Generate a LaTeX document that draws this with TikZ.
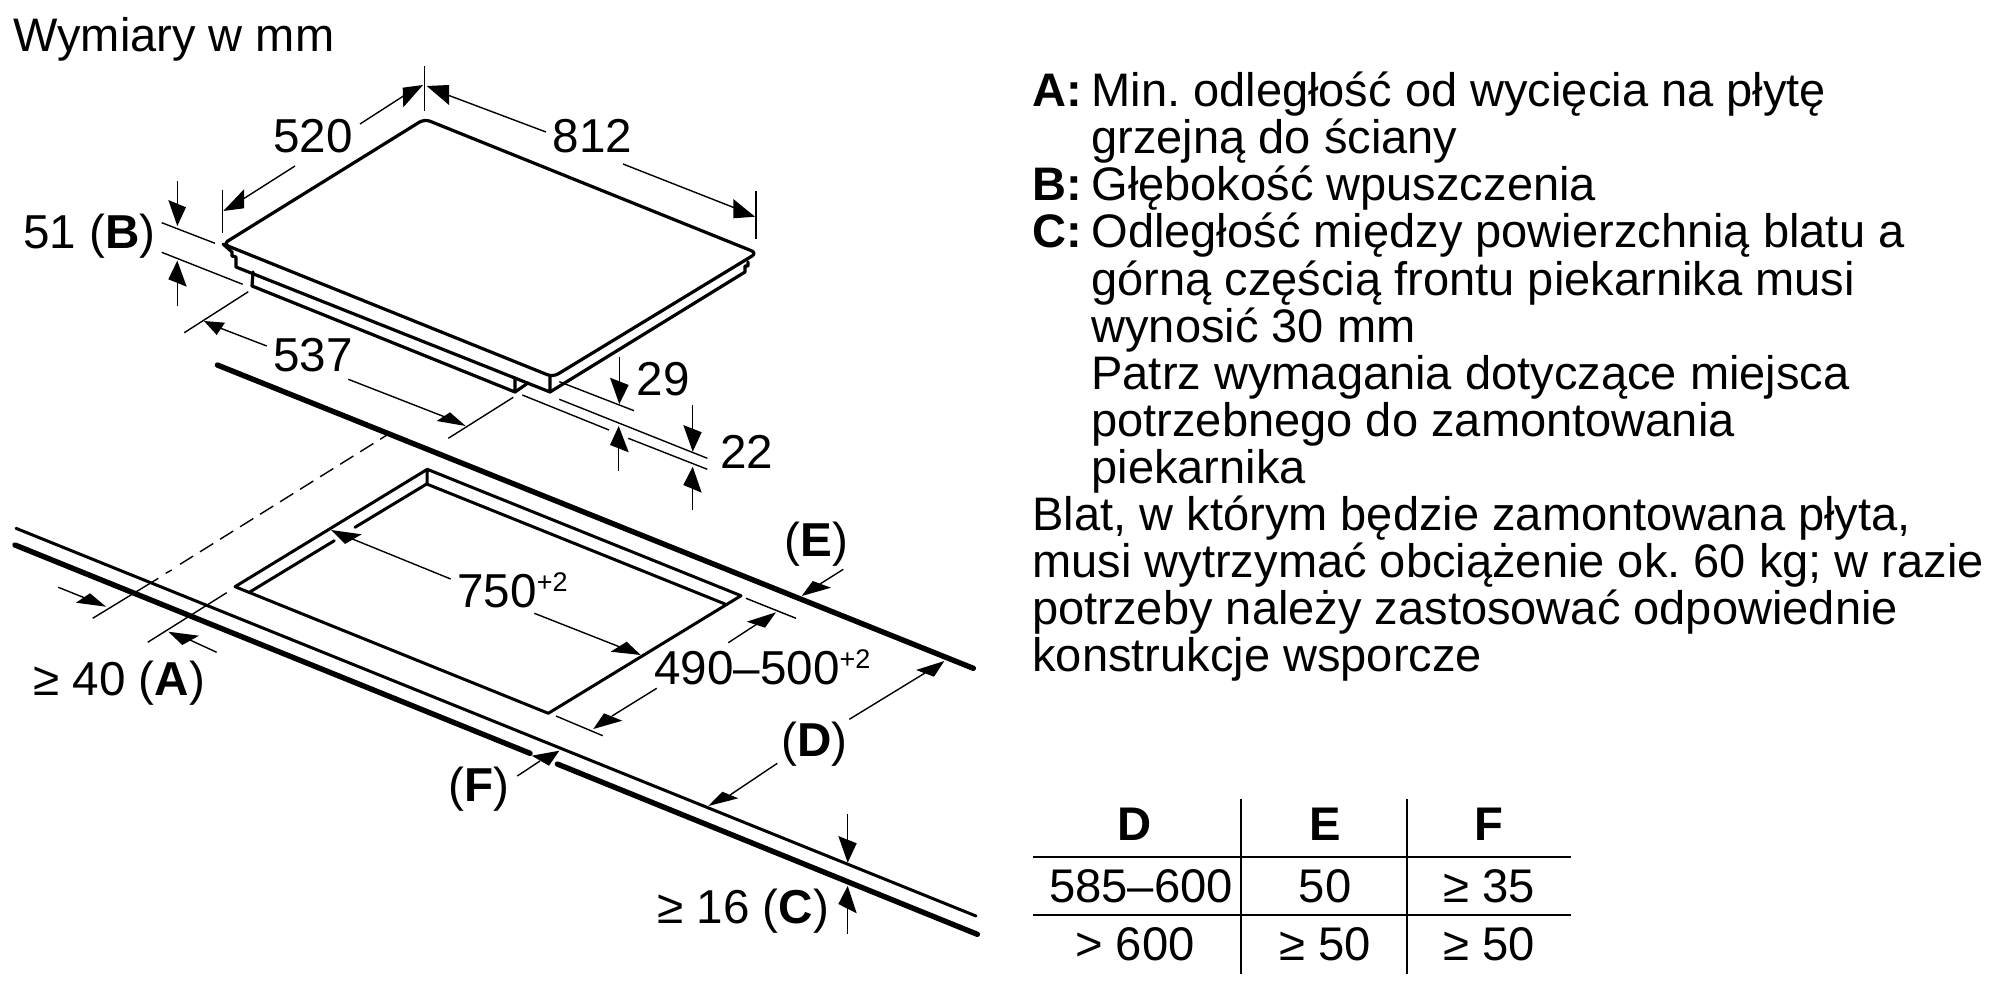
\documentclass[tikz,border=0pt]{standalone}
\usepackage{fontspec}
\setmainfont{Liberation Sans}
\frenchspacing
\newcommand{\supplus}[1]{\raisebox{8pt}{\fontsize{13.5}{13.5}\selectfont #1}}
\newcommand{\bld}[1]{\textbf{#1}}
\tikzset{
  hobline/.style={line width=1.6pt,line join=round,line cap=round},
  cutline/.style={line width=1.5pt,line join=round,line cap=round},
  counterthin/.style={line width=1.5pt,line cap=round},
  counterthick/.style={line width=2.7pt,line cap=round},
  dimline/.style={line width=0.7pt},
  gridline/.style={line width=1pt},
  headfill/.style={fill=black,draw=none},
  lbl/.style={inner sep=0pt,anchor=base west,font=\fontsize{23.8}{28}\selectfont},
  note/.style={inner sep=0pt,anchor=base west,font=\fontsize{23.52}{28}\selectfont},
  cell/.style={inner sep=0pt,anchor=base,font=\fontsize{23.6}{28}\selectfont},
}
\begin{document}
\begin{tikzpicture}[x=0.5pt,y=-0.5pt]
\useasboundingbox (0,0) rectangle (2000,1000);
\fill[white] (0,0) rectangle (2000,1000);
% hob
\draw[hobline,rounded corners=3pt] (223,244) -- (424.5,119) -- (757,253) -- (553,377) -- cycle;
\draw[hobline] (223,244) -- (232,252) -- (232,256) -- (236,257) -- (236,267) -- (550,392) -- (550,377);
\draw[hobline] (253,272) -- (252,286) -- (515,392) -- (515,378);
\draw[hobline] (515,392) -- (528,383);
\draw[hobline] (550,392) -- (745,272) -- (745,266) -- (748,266) -- (748,262);
% counter
\draw[counterthick] (217.3,365) -- (973.3,668.3);
\draw[counterthin] (16,528.3) -- (976,916);
\draw[counterthick] (15,545) -- (530,753.3);
\draw[counterthick] (557.3,764) -- (977.3,934.3);
% cut-out
\draw[cutline] (235,586.7) -- (427.3,469.3) -- (741,595.7) -- (548.3,713.3) -- cycle;
\draw[cutline] (249.3,592.3) -- (334.3,540.7);
\draw[cutline] (355,527.3) -- (426.7,484) -- (725,604);
\draw[cutline] (427.3,469.3) -- (427,484);
% dimension 520
\draw[dimline] (222.5,190) -- (222.5,233);
\draw[dimline] (424.5,66) -- (424.5,111);
\draw[dimline] (295,166) -- (240,201);
\fill[headfill] (223.3,211) -- (244,189.3) -- (244,208.3) -- cycle;
\draw[dimline] (360,124) -- (405,95);
\fill[headfill] (423,85) -- (402.7,87.7) -- (403.3,107.3) -- cycle;
% dimension 812
\fill[headfill] (426.7,86) -- (449,85) -- (449,105) -- cycle;
\draw[dimline] (445,94) -- (546,132);
\draw[dimline] (623,164) -- (740,210);
\fill[headfill] (755,216.7) -- (733.3,199) -- (733.3,218.3) -- cycle;
\draw[dimline] (756,191) -- (756,239);
% dimension 51
\draw[dimline] (161.7,222.7) -- (215,243.3);
\draw[dimline] (161.7,252.3) -- (242.7,284.3);
\draw[dimline] (177.3,181) -- (177.3,205);
\fill[headfill] (177.3,226) -- (168.3,200) -- (186,207.3) -- cycle;
\draw[dimline] (177.3,280) -- (177.3,305.7);
\fill[headfill] (177.3,260.7) -- (168.3,279.3) -- (186.7,286.7) -- cycle;
% dimension 537
\draw[dimline] (184.3,332.7) -- (248.3,291.7);
\fill[headfill] (204,321) -- (225,322.7) -- (216.7,335) -- cycle;
\draw[dimline] (220,328) -- (266.7,346);
\draw[dimline] (348.3,379.3) -- (445,417);
\fill[headfill] (465.7,426) -- (450,412.3) -- (436.7,421) -- cycle;
\draw[dimline] (448.3,438.3) -- (513.3,397.3);
% dimension 29
\draw[dimline] (559.3,381.7) -- (634,410.7);
\draw[dimline] (522.3,395) -- (609,430);
\draw[dimline] (628.3,438.3) -- (707.3,469.3);
\draw[dimline] (619.3,357.3) -- (619.3,382);
\fill[headfill] (619.3,404) -- (610,377.7) -- (628.7,385) -- cycle;
\draw[dimline] (618.7,448) -- (618.7,470.7);
\fill[headfill] (618.7,426) -- (610,445) -- (628.7,452.3) -- cycle;
% dimension 22
\draw[dimline] (559.3,399.3) -- (707.3,458.3);
\draw[dimline] (692.7,405) -- (692.7,430);
\fill[headfill] (692.7,451.7) -- (683.3,425) -- (701.7,432.3) -- cycle;
\draw[dimline] (692.7,488) -- (692.7,510);
\fill[headfill] (692.7,466.7) -- (683.3,485) -- (701.7,492.7) -- cycle;
% dimension 750
\fill[headfill] (331,530) -- (361.7,534.3) -- (345,544) -- cycle;
\draw[dimline] (350,538) -- (450.7,579);
\draw[dimline] (534.3,613.3) -- (620,647);
\fill[headfill] (640.7,655) -- (626.7,641.7) -- (610.7,651.7) -- cycle;
% dimension 490-500
\draw[dimline] (746,598.3) -- (796,618.3);
\draw[dimline] (556,716) -- (602.7,735.7);
\draw[dimline] (728.3,642.7) -- (757,624);
\fill[headfill] (776,612.3) -- (746.7,621.7) -- (765,627.7) -- cycle;
\draw[dimline] (656.7,688.3) -- (612,716);
\fill[headfill] (593.3,729) -- (604,713.3) -- (622.3,720.7) -- cycle;
% E
\draw[dimline] (843.3,569.3) -- (820,584);
\fill[headfill] (801.7,596) -- (812.7,581) -- (831,587.7) -- cycle;
% D
\draw[dimline] (849.3,719.3) -- (925,673);
\fill[headfill] (944.3,661) -- (916,670) -- (934,676.7) -- cycle;
\draw[dimline] (777.3,763.3) -- (730,795);
\fill[headfill] (708.3,806) -- (722.3,791.7) -- (738.3,798.3) -- cycle;
% F
\draw[dimline] (517.3,776) -- (540,761);
\fill[headfill] (559.3,750.7) -- (531.7,755.7) -- (549,765.7) -- cycle;
% C
\draw[dimline] (847.7,814) -- (847.7,840);
\fill[headfill] (847.7,862.7) -- (838.3,836) -- (856.7,843.3) -- cycle;
\draw[dimline] (847.7,908) -- (847.7,934.3);
\fill[headfill] (847.7,886) -- (838.3,904) -- (856.7,913.3) -- cycle;
% A
\draw[dimline] (58.3,587.3) -- (85,598);
\fill[headfill] (106,606.7) -- (90,593.3) -- (76,602.7) -- cycle;
\draw[dimline] (92.7,618.3) -- (158.3,578.3);
\draw[dimline] (165.7,573.3) -- (171.7,570);
\draw[dimline,dash pattern=on 7.8pt off 4pt] (180,564.3) -- (387,435);
\draw[dimline] (147.7,642.3) -- (226.7,592.7);
\fill[headfill] (168.3,631.7) -- (199,635.7) -- (182.3,645) -- cycle;
\draw[dimline] (190,640) -- (216.7,652.3);
% labels
\node[note] (title) at (13,52) {Wymiary w mm};
\node[lbl] (l520) at (273,152.7) {520};
\node[lbl] (l812) at (552.5,153) {812};
\node[lbl] (l51) at (23,249) {51 (\bld{B})};
\node[lbl] (l537) at (273,371.7) {537};
\node[lbl] (l29) at (636.5,395.7) {29};
\node[lbl] (l22) at (720,468) {22};
\node[lbl] (l750) at (457,607.7) {750\supplus{+2}};
\node[lbl] (l490) at (654,684) {490–500\supplus{+2}};
\node[lbl] (lE) at (784,556) {(\bld{E})};
\node[lbl] (lD) at (781,756.7) {(\bld{D})};
\node[lbl] (lF) at (448.5,801.7) {(\bld{F})};
\node[lbl] (lC) at (657,923) {≥ 16 (\bld{C})};
\node[lbl] (lA) at (33,695) {≥ 40 (\bld{A})};
% notes
\node[note] (n1) at (1032,107) {\bld{A:}};
\node[note] (n1b) at (1091,107) {Min. odległość od wycięcia na płytę};
\node[note] (n2) at (1091,154) {grzejną do ściany};
\node[note] (n3) at (1032,201) {\bld{B:}};
\node[note] (n3b) at (1091,201) {Głębokość wpuszczenia};
\node[note] (n4) at (1032,248) {\bld{C:}};
\node[note] (n4b) at (1091,248) {Odległość między powierzchnią blatu a};
\node[note] (n5) at (1091,295) {górną częścią frontu piekarnika musi};
\node[note] (n6) at (1091,342) {wynosić 30 mm};
\node[note] (n7) at (1091,389) {Patrz wymagania dotyczące miejsca};
\node[note] (n8) at (1091,436) {potrzebnego do zamontowania};
\node[note] (n9) at (1091,483) {piekarnika};
\node[note] (n10) at (1032,530) {Blat, w którym będzie zamontowana płyta,};
\node[note] (n11) at (1032,577) {musi wytrzymać obciążenie ok. 60 kg; w razie};
\node[note] (n12) at (1032,624) {potrzeby należy zastosować odpowiednie};
\node[note] (n13) at (1032,671) {konstrukcje wsporcze};
% table
\draw[gridline] (1241,799) -- (1241,974);
\draw[gridline] (1407,799) -- (1407,974);
\draw[gridline] (1033,857) -- (1571,857);
\draw[gridline] (1033,915) -- (1571,915);
\node[cell] (td) at (1135,840) {\bld{D}};
\node[cell] (te) at (1325,840) {\bld{E}};
\node[cell] (tf) at (1489,840) {\bld{F}};
\node[cell] (t1d) at (1141,902) {585–600};
\node[cell] (t1e) at (1325,902) {50};
\node[cell] (t1f) at (1489,902) {≥ 35};
\node[cell] (t2d) at (1135,960) {> 600};
\node[cell] (t2e) at (1325,960) {≥ 50};
\node[cell] (t2f) at (1489,960) {≥ 50};
\end{tikzpicture}
\end{document}
